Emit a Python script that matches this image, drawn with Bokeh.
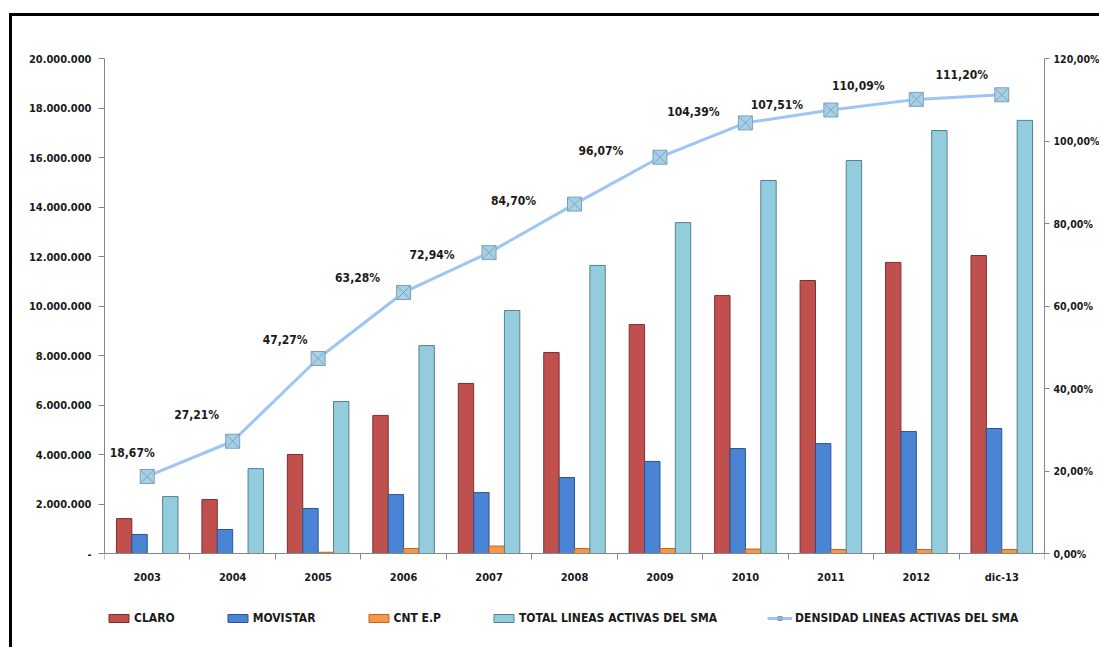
from bokeh.plotting import figure
from bokeh.models import (Range1d, LinearAxis, FixedTicker, Legend, LegendItem,
                          ColumnDataSource)
from bokeh.core.properties import value
from bokeh.embed import file_html
from bokeh.resources import INLINE

# ---------------- data ----------------
categories = ["2003", "2004", "2005", "2006", "2007", "2008", "2009", "2010",
              "2011", "2012", "dic-13"]
claro = [1410000, 2180000, 4000000, 5580000, 6870000, 8120000, 9250000,
         10420000, 11030000, 11760000, 12040000]
movistar = [770000, 970000, 1820000, 2380000, 2460000, 3070000, 3720000,
            4240000, 4440000, 4930000, 5050000]
cnt = [0, 0, 50000, 200000, 300000, 200000, 200000, 180000, 160000, 160000,
       160000]
total = [2300000, 3430000, 6140000, 8400000, 9820000, 11640000, 13370000,
         15070000, 15880000, 17090000, 17500000]
densidad = [18.67, 27.21, 47.27, 63.28, 72.94, 84.70, 96.07, 104.39, 107.51,
            110.09, 111.20]
left_ticks = [0, 2000000, 4000000, 6000000, 8000000, 10000000, 12000000,
              14000000, 16000000, 18000000, 20000000]
right_ticks = [0, 20, 40, 60, 80, 100, 120]

# label placement (screen px offsets relative to markers)
label_dx = [-15, -36, -33, -46, -57, -61, -59, -52, -54, -58, -40]
label_dy = [-23, -26, -19, -14, 2, -3, -6, -11, -5, -13, -20]

FONT = "DejaVu Sans Condensed, Liberation Sans Narrow, Liberation Sans, sans-serif"

# layout constants (pixels)
W, H = 1090, 634
TOP, BOTTOM, LEFT, RIGHT = 42, 8, 92, 55
PLOT_H = 495                      # height of the value area (0 .. max)
FRAME_H = H - TOP - BOTTOM        # frame extends below 0 to hold labels/legend
ext = (FRAME_H - PLOT_H) / PLOT_H  # fraction of range below zero

YMAX, PMAX = 20000000, 120

n = len(categories)
centers = [i + 0.5 for i in range(n)]
bw = 0.18

src = ColumnDataSource(dict(
    xc=centers,
    x_claro=[c - 0.27 for c in centers],
    x_mov=[c - 0.09 for c in centers],
    x_cnt=[c + 0.09 for c in centers],
    x_tot=[c + 0.27 for c in centers],
    claro=claro, movistar=movistar, cnt=cnt, total=total,
    dens=densidad,
    dlab=[("%.2f" % v).replace(".", ",") + "%" for v in densidad],
    dx=label_dx, dy=label_dy,
))

p = figure(width=W, height=H, output_backend="svg", toolbar_location=None,
           x_range=Range1d(0, n), y_range=Range1d(-ext * YMAX, YMAX),
           min_border_left=LEFT, min_border_top=TOP,
           min_border_bottom=BOTTOM, min_border_right=RIGHT)
p.styles = {"border-left": "3px solid black", "border-top": "3px solid black",
            "margin-left": "9px", "margin-top": "13px"}
p.outline_line_color = None
p.xgrid.visible = False
p.ygrid.visible = False
p.background_fill_color = "white"

# bars
r_claro = p.vbar(x="x_claro", top="claro", width=bw, source=src,
                 fill_color="#c0504d", line_color="#7f2f2d", line_width=1)
r_mov = p.vbar(x="x_mov", top="movistar", width=bw, source=src,
               fill_color="#4a84d4", line_color="#2a5590", line_width=1)
r_cnt = p.vbar(x="x_cnt", top="cnt", width=bw, source=src,
               fill_color="#f79646", line_color="#b8682a", line_width=1)
r_tot = p.vbar(x="x_tot", top="total", width=bw, source=src,
               fill_color="#93cddd", line_color="#56808c", line_width=1)

# density line on secondary axis
p.extra_y_ranges = {"pct": Range1d(-ext * PMAX, PMAX)}
r_line = p.line(x="xc", y="dens", source=src, y_range_name="pct",
                line_color="#9dc5f5", line_width=3)
r_mark = p.scatter(x="xc", y="dens", source=src, y_range_name="pct",
                   marker="square_x", size=14, fill_color="#a8d0e4",
                   line_color="#7aa2bf", line_width=1)
p.text(x="xc", y="dens", text="dlab", source=src, y_range_name="pct",
       x_offset="dx", y_offset="dy", text_align="center",
       text_baseline="middle", text_font=value(FONT), text_font_style="bold",
       text_font_size="12px", text_color="#1a1a1a")

# left axis
ya = p.yaxis[0]
ya.ticker = FixedTicker(ticks=left_ticks, minor_ticks=[])
ya.bounds = (0, YMAX)
ya.major_label_overrides = {
    t: ("-" if t == 0 else "{:,}".format(t).replace(",", ".")) for t in left_ticks}
ya.axis_line_color = "#868686"
ya.major_tick_line_color = "#868686"
ya.major_tick_in = 0
ya.major_tick_out = 6
ya.minor_tick_line_color = None
ya.major_label_text_font = FONT
ya.major_label_text_font_style = "bold"
ya.major_label_text_font_size = "11px"
ya.major_label_text_color = "#1a1a1a"
ya.major_label_standoff = 7

# right axis
ra = LinearAxis(y_range_name="pct", bounds=(0, PMAX),
                ticker=FixedTicker(ticks=right_ticks, minor_ticks=[]))
ra.major_label_overrides = {t: ("%.2f" % t).replace(".", ",") + "%"
                            for t in right_ticks}
ra.axis_line_color = "#868686"
ra.major_tick_line_color = "#868686"
ra.major_tick_in = 0
ra.major_tick_out = 5
ra.minor_tick_line_color = None
ra.major_label_text_font = FONT
ra.major_label_text_font_style = "bold"
ra.major_label_text_font_size = "10.5px"
ra.major_label_text_color = "#1a1a1a"
ra.major_label_standoff = 4
p.add_layout(ra, "right")

# x axis drawn at value 0: labels at centers, ticks at category boundaries
xa = p.xaxis[0]
xa.fixed_location = 0
xa.ticker = FixedTicker(ticks=centers, minor_ticks=list(range(n + 1)))
xa.major_label_overrides = {c: lab for c, lab in zip(centers, categories)}
xa.axis_line_color = "#868686"
xa.major_tick_line_color = None
xa.minor_tick_line_color = "#868686"
xa.minor_tick_in = 0
xa.minor_tick_out = 6
xa.major_label_text_font = FONT
xa.major_label_text_font_style = "bold"
xa.major_label_text_font_size = "11px"
xa.major_label_text_color = "#1a1a1a"
xa.major_label_standoff = 11

legend = Legend(items=[
    LegendItem(label="CLARO", renderers=[r_claro]),
    LegendItem(label="MOVISTAR", renderers=[r_mov]),
    LegendItem(label="CNT E.P", renderers=[r_cnt]),
    LegendItem(label="TOTAL LINEAS ACTIVAS DEL SMA", renderers=[r_tot]),
    LegendItem(label="DENSIDAD LINEAS ACTIVAS DEL SMA",
               renderers=[r_line, r_mark]),
], orientation="horizontal", location=(2, 17), spacing=50,
    glyph_width=25, glyph_height=10, label_standoff=3, padding=0, margin=0,
    border_line_color=None, background_fill_alpha=0,
    label_text_font=FONT, label_text_font_style="bold",
    label_text_font_size="12px", label_text_color="#1a1a1a")
p.add_layout(legend, "center")

open("out.html", "w").write(file_html(p, INLINE))
